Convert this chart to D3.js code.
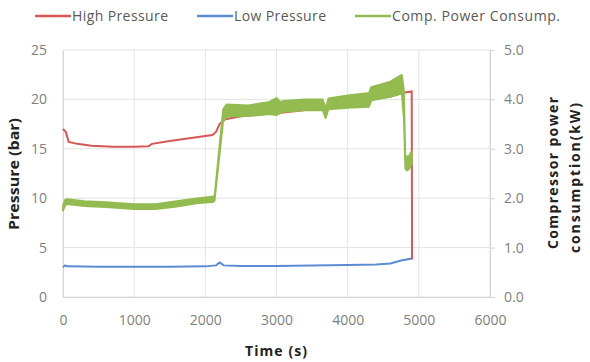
<!DOCTYPE html>
<html lang="en">
<head>
  <meta charset="UTF-8">
  <title>Pressure and compressor power</title>
  <script src="https://d3js.org/d3.v7.min.js"></script>
  <style>
    body { margin: 0; background: #fff; font-family: 'Open Sans', sans-serif; }
    .tick text { fill: #808080; font-size: 14px; }
    .axis-title { font-weight: bold; font-size: 14px; fill: #222; }
    .legend text { fill: #595959; font-size: 14px; }
  </style>
</head>
<body>
<div id="chart"></div>
<script>
  // High pressure (bar)
  const hpTime = [0, 40, 80, 200, 400, 700, 1000, 1200, 1250, 1500, 1800, 2100, 2150, 2200, 2280, 2500, 3000, 3500, 4000, 4300, 4350, 4600, 4800, 4900, 4905];
  const hpValue = [17.0, 16.7, 15.7, 15.5, 15.3, 15.2, 15.2, 15.25, 15.5, 15.8, 16.1, 16.4, 16.7, 17.5, 18.0, 18.3, 18.6, 19.0, 19.3, 19.6, 20.0, 20.3, 20.7, 20.8, 3.8];

  // Low pressure (bar)
  const lpTime = [0, 30, 60, 500, 1000, 1500, 2000, 2150, 2200, 2260, 2500, 3000, 3500, 4000, 4400, 4600, 4750, 4900];
  const lpValue = [3.0, 3.2, 3.1, 3.05, 3.05, 3.05, 3.1, 3.2, 3.5, 3.2, 3.15, 3.15, 3.2, 3.25, 3.3, 3.4, 3.7, 3.9];

  // Compressor power (kW), read as lower / upper edge of the noisy band
  const pwTime = [0, 30, 60, 300, 600, 1000, 1300, 1600, 1900, 2100, 2130, 2250, 2300, 2600, 2900, 3000, 3050, 3100, 3400, 3650, 3690, 3730, 4000, 4300, 4330, 4600, 4760, 4790, 4810, 4830, 4860, 4900];
  const pwLow = [1.75, 1.85, 1.88, 1.84, 1.82, 1.78, 1.78, 1.83, 1.9, 1.92, 1.95, 3.55, 3.65, 3.66, 3.7, 3.68, 3.72, 3.75, 3.78, 3.78, 3.62, 3.8, 3.83, 3.85, 3.98, 4.05, 4.12, 3.6, 2.6, 2.56, 2.58, 2.7];
  const pwHigh = [1.85, 1.97, 1.98, 1.94, 1.92, 1.88, 1.88, 1.94, 2.0, 2.03, 2.05, 3.8, 3.9, 3.88, 3.95, 4.03, 3.95, 3.97, 4.0, 4.0, 3.82, 4.02, 4.08, 4.13, 4.25, 4.36, 4.5, 4.2, 2.85, 2.84, 2.85, 2.95];

  const timeTicks = [0, 1000, 2000, 3000, 4000, 5000, 6000];
  const pressureTicks = [0, 5, 10, 15, 20, 25];
  const powerTicks = [0, 1, 2, 3, 4, 5];

  const seriesNames = ["High Pressure", "Low Pressure", "Comp. Power Consump."];
  const seriesColors = ["#d75656", "#5b8bd2", "#93bb50"];

  const W = 590, H = 362;
  const margin = { top: 50, right: 100, bottom: 65, left: 63 };
  const width = W - margin.left - margin.right,
    height = H - margin.top - margin.bottom;

  const svg = d3.select("#chart").append("svg")
    .attr("width", W).attr("height", H);
  const g = svg.append("g").attr("transform", `translate(${margin.left},${margin.top})`);

  const x = d3.scaleLinear().domain([0, 6000]).range([0, width]);
  const y = d3.scaleLinear().domain([0, 25]).range([height, 0]);
  const y2 = d3.scaleLinear().domain([0, 5]).range([height, 0]);

  // gridlines
  g.append("g").selectAll("line").data(pressureTicks).join("line")
    .attr("x1", 0).attr("x2", width)
    .attr("y1", d => y(d)).attr("y2", d => y(d))
    .attr("stroke", "#e3e3e3");
  g.append("g").selectAll("line").data(timeTicks).join("line")
    .attr("x1", d => x(d)).attr("x2", d => x(d))
    .attr("y1", 0).attr("y2", height)
    .attr("stroke", "#e3e3e3");

  // axes
  const xAxis = g.append("g").attr("transform", `translate(0,${height})`)
    .call(d3.axisBottom(x).tickValues(timeTicks).tickSize(0).tickPadding(18).tickFormat(d3.format("d")));
  const yAxis = g.append("g")
    .call(d3.axisLeft(y).tickValues(pressureTicks).tickSize(0).tickPadding(16));
  const y2Axis = g.append("g").attr("transform", `translate(${width},0)`)
    .call(d3.axisRight(y2).tickValues(powerTicks).tickSize(5).tickPadding(9).tickFormat(d3.format(".1f")));
  [xAxis, yAxis, y2Axis].forEach(a => {
    a.select(".domain").attr("stroke", "#d4d4d4");
    a.selectAll(".tick line").attr("stroke", "#d4d4d4");
    a.selectAll(".tick text").attr("font-family", "'Open Sans', sans-serif");
  });

  // series
  const hp = hpTime.map((t, i) => ({ t, v: hpValue[i] }));
  const lp = lpTime.map((t, i) => ({ t, v: lpValue[i] }));
  const pw = pwTime.map((t, i) => ({ t, lo: pwLow[i], hi: pwHigh[i] }));

  const line = d3.line().x(d => x(d.t)).y(d => y(d.v));

  g.append("path").datum(hp)
    .attr("fill", "none").attr("stroke", seriesColors[0]).attr("stroke-width", 2)
    .attr("d", line);
  g.append("path").datum(lp)
    .attr("fill", "none").attr("stroke", seriesColors[1]).attr("stroke-width", 2)
    .attr("d", line);

  const band = d3.area().x(d => x(d.t)).y0(d => y2(d.lo)).y1(d => y2(d.hi));
  g.append("path").datum(pw)
    .attr("fill", seriesColors[2]).attr("stroke", seriesColors[2]).attr("stroke-width", 1.8)
    .attr("stroke-linejoin", "round")
    .attr("d", band);

  // axis titles
  svg.append("text").attr("class", "axis-title")
    .attr("x", 276).attr("y", 356)
    .attr("text-anchor", "middle")
    .attr("textLength", 62).attr("lengthAdjust", "spacing")
    .text("Time (s)");
  svg.append("text").attr("class", "axis-title")
    .attr("transform", "translate(19,174) rotate(-90)")
    .attr("text-anchor", "middle")
    .attr("textLength", 112).attr("lengthAdjust", "spacingAndGlyphs")
    .text("Pressure (bar)");
  svg.append("text").attr("class", "axis-title")
    .attr("transform", "translate(558,173) rotate(-90)")
    .attr("text-anchor", "middle")
    .attr("textLength", 152).attr("lengthAdjust", "spacing")
    .text("Compressor  power");
  svg.append("text").attr("class", "axis-title")
    .attr("transform", "translate(580,178) rotate(-90)")
    .attr("text-anchor", "middle")
    .attr("textLength", 150).attr("lengthAdjust", "spacing")
    .text("consumption(kW)");

  // legend
  const legendX = [35, 197, 355];
  const legendTextLen = [96, 92, 168];
  const legend = svg.append("g").attr("class", "legend");
  seriesNames.forEach((name, i) => {
    const item = legend.append("g").attr("transform", `translate(${legendX[i]},16)`);
    item.append("line").attr("x1", 0).attr("x2", 36).attr("y1", 0).attr("y2", 0)
      .attr("stroke", seriesColors[i]).attr("stroke-width", 2.5);
    item.append("text").attr("x", 37).attr("y", 5)
      .attr("textLength", legendTextLen[i]).attr("lengthAdjust", "spacing")
      .text(name);
  });
</script>
</body>
</html>
